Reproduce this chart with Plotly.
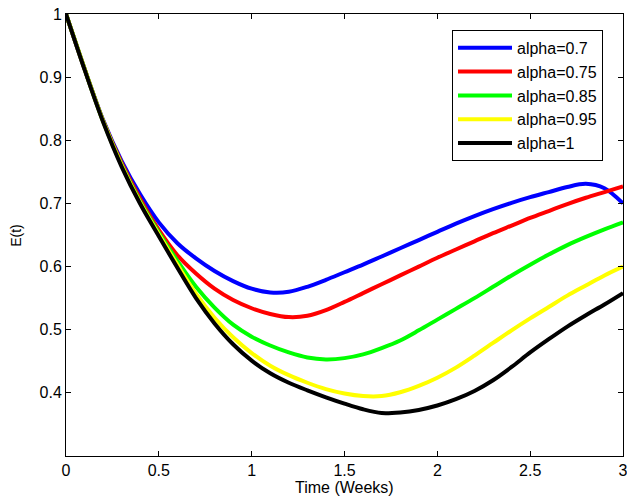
import plotly.graph_objects as go

t = [0.0, 0.1, 0.2, 0.3, 0.4, 0.5, 0.6, 0.7, 0.8, 0.9, 1.0,
     1.1, 1.2, 1.3, 1.4, 1.5, 1.6, 1.7, 1.8, 1.9, 2.0,
     2.1, 2.2, 2.3, 2.4, 2.5, 2.6, 2.7, 2.8, 2.9, 3.0]

e_070 = [1.000, 0.913, 0.832, 0.767, 0.714, 0.670, 0.637, 0.613, 0.593, 0.577, 0.565,
         0.559, 0.560, 0.568, 0.579, 0.591, 0.603, 0.616, 0.629, 0.642, 0.655,
         0.668, 0.680, 0.691, 0.701, 0.710, 0.718, 0.726, 0.731, 0.724, 0.700]
e_075 = [1.000, 0.913, 0.831, 0.764, 0.707, 0.658, 0.618, 0.589, 0.565, 0.547, 0.534,
         0.525, 0.520, 0.522, 0.531, 0.544, 0.558, 0.572, 0.586, 0.600, 0.614,
         0.627, 0.640, 0.653, 0.665, 0.677, 0.688, 0.699, 0.709, 0.718, 0.727]
e_085 = [1.000, 0.913, 0.830, 0.761, 0.703, 0.654, 0.609, 0.568, 0.535, 0.508, 0.489,
         0.475, 0.464, 0.456, 0.453, 0.455, 0.461, 0.471, 0.483, 0.499, 0.516,
         0.533, 0.550, 0.568, 0.586, 0.603, 0.619, 0.634, 0.647, 0.659, 0.670]
e_095 = [1.000, 0.913, 0.830, 0.760, 0.701, 0.651, 0.603, 0.557, 0.519, 0.488, 0.463,
         0.443, 0.428, 0.416, 0.406, 0.399, 0.395, 0.395, 0.401, 0.411, 0.424,
         0.440, 0.459, 0.479, 0.499, 0.518, 0.536, 0.554, 0.570, 0.586, 0.600]
e_100 = [1.000, 0.912, 0.829, 0.758, 0.699, 0.648, 0.598, 0.550, 0.510, 0.477, 0.451,
         0.431, 0.416, 0.404, 0.393, 0.383, 0.374, 0.368, 0.369, 0.373, 0.380,
         0.390, 0.403, 0.420, 0.441, 0.464, 0.485, 0.505, 0.523, 0.540, 0.558]

series = [
    ("alpha=0.7", e_070, "#0000FF"),
    ("alpha=0.75", e_075, "#FF0000"),
    ("alpha=0.85", e_085, "#00FF00"),
    ("alpha=0.95", e_095, "#FFFF00"),
    ("alpha=1", e_100, "#000000"),
]

xticks = [0, 0.5, 1, 1.5, 2, 2.5, 3]
xticklabels = ["0", "0.5", "1", "1.5", "2", "2.5", "3"]
yticks = [0.4, 0.5, 0.6, 0.7, 0.8, 0.9, 1.0]
yticklabels = ["0.4", "0.5", "0.6", "0.7", "0.8", "0.9", "1"]

FAM = "Liberation Sans, Arial, Helvetica, sans-serif"

fig = go.Figure()
for name, ys, col in series:
    fig.add_trace(go.Scatter(
        x=t, y=ys, mode="lines", name=name,
        line=dict(color=col, width=4, shape="spline", smoothing=0.9),
    ))

fig.update_layout(
    width=627, height=504,
    margin=dict(l=66, r=4, t=14, b=48, autoexpand=False),
    paper_bgcolor="white", plot_bgcolor="white",
    font=dict(family=FAM, size=16, color="black"),
    showlegend=True,
    legend=dict(
        x=0.693, y=0.964, xanchor="left", yanchor="top",
        bordercolor="black", borderwidth=1, bgcolor="white",
        traceorder="normal", itemwidth=54,
        font=dict(family=FAM, size=16, color="black"),
    ),
    xaxis=dict(
        range=[0, 3], tickvals=xticks, ticktext=xticklabels,
        showgrid=False, zeroline=False, showline=True, linecolor="black", linewidth=1,
        mirror="ticks", ticks="inside", ticklen=5, tickcolor="black",
        ticklabeloverflow="allow", automargin=False,
        tickfont=dict(family=FAM, size=16),
    ),
    yaxis=dict(
        range=[0.3, 1.0], tickvals=yticks, ticktext=yticklabels,
        showgrid=False, zeroline=False, showline=True, linecolor="black", linewidth=1,
        mirror="ticks", ticks="inside", ticklen=5, tickcolor="black",
        automargin=False,
        tickfont=dict(family=FAM, size=16),
    ),
    annotations=[
        dict(text="Time (Weeks)", xref="paper", yref="paper", x=0.5, y=-0.071,
             xanchor="center", yanchor="middle", showarrow=False,
             font=dict(family=FAM, size=16)),
        dict(text="E(t)", xref="paper", yref="paper", x=-0.09, y=0.5,
             xanchor="center", yanchor="middle", showarrow=False, textangle=-90,
             font=dict(family=FAM, size=14)),
    ],
)

fig.write_html("out.html")
